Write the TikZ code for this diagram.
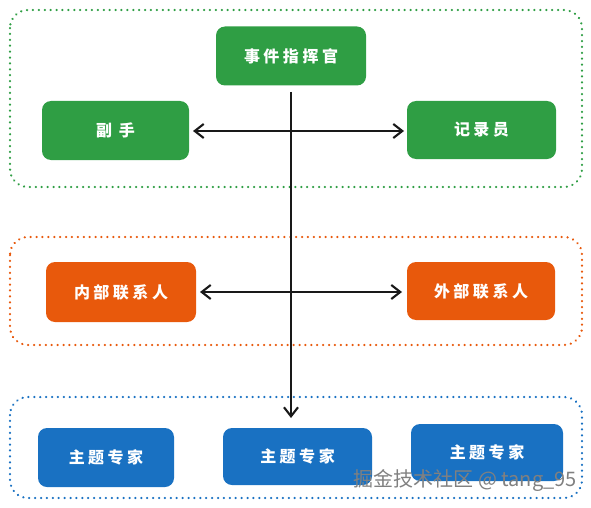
\documentclass[tikz,border=0pt]{standalone}
\usepackage{fontspec}
\newfontfamily\cjk{Noto Sans CJK SC}
\newfontfamily\cjkb{Noto Sans CJK SC Black}
\usetikzlibrary{arrows.meta}
\definecolor{cgreen}{HTML}{2F9E44}
\definecolor{corange}{HTML}{E8590C}
\definecolor{cblue}{HTML}{1971C2}
\newcommand{\gp}{\hspace{3.5pt}}
\tikzset{
  box/.style={rounded corners=9pt, inner sep=0pt, text=white, font=\cjkb\fontsize{16}{18}\selectfont},
  gbox/.style={box, fill=cgreen},
  obox/.style={box, fill=corange},
  bbox/.style={box, fill=cblue},
  frame/.style={rounded corners=18pt, line width=2.4pt, dash pattern=on 0.1pt off 5.8pt, line cap=round},
  conn/.style={line width=2.8pt, black!90},
  tip/.style={-{Straight Barb[length=9pt,width=14pt,line width=2.1pt]}},
  tips/.style={{Straight Barb[length=9pt,width=14pt,line width=2.1pt]}-{Straight Barb[length=9pt,width=14pt,line width=2.1pt]}}
}
\begin{document}
\begin{tikzpicture}[x=1pt,y=-1pt]
\useasboundingbox (0,0) rectangle (591,508);
% containers
\draw[frame, cgreen] (10,10) rectangle (582,187);
\draw[frame, corange] (10,237) rectangle (582,345);
\draw[frame, cblue] (10,397) rectangle (582,498);
% nodes
\node[gbox, minimum width=150pt, minimum height=59pt] (cmd) at (291,56) {事\gp 件\gp 指\gp 挥\gp 官};
\node[gbox, minimum width=147pt, minimum height=59pt] (dep) at (115.5,130.5) {副\gp\gp 手};
\node[gbox, minimum width=149pt, minimum height=58pt] (rec) at (481.5,130) {记\gp 录\gp 员};
\node[obox, minimum width=150pt, minimum height=60pt] (inn) at (121,292) {内\gp 部\gp 联\gp 系\gp 人};
\node[obox, minimum width=148pt, minimum height=58pt] (out) at (481,291) {外\gp 部\gp 联\gp 系\gp 人};
\node[bbox, minimum width=136pt, minimum height=59pt] (s1) at (106,457.5) {主\gp 题\gp 专\gp 家};
\node[bbox, minimum width=149pt, minimum height=57pt] (s2) at (297.5,456.5) {主\gp 题\gp 专\gp 家};
\node[bbox, minimum width=152pt, minimum height=57pt] (s3) at (487,452.5) {主\gp 题\gp 专\gp 家};
% connectors
\coordinate (vtop) at (291,92);
\coordinate (vbot) at (291,418);
\coordinate (hl1) at (193,131);
\coordinate (hr1) at (404,131);
\coordinate (hl2) at (200,292);
\coordinate (hr2) at (402,292);
\draw[conn, tip] (vtop) -- (vbot);
\draw[conn, tips] (hl1) -- (hr1);
\draw[conn, tips] (hl2) -- (hr2);
% watermark
\node[anchor=east, text=black!50, font=\cjk\fontsize{20}{22}\selectfont, inner sep=0pt] (wm) at (577,481) {掘金技术社区 @ tang\_95};
\end{tikzpicture}
\end{document}
